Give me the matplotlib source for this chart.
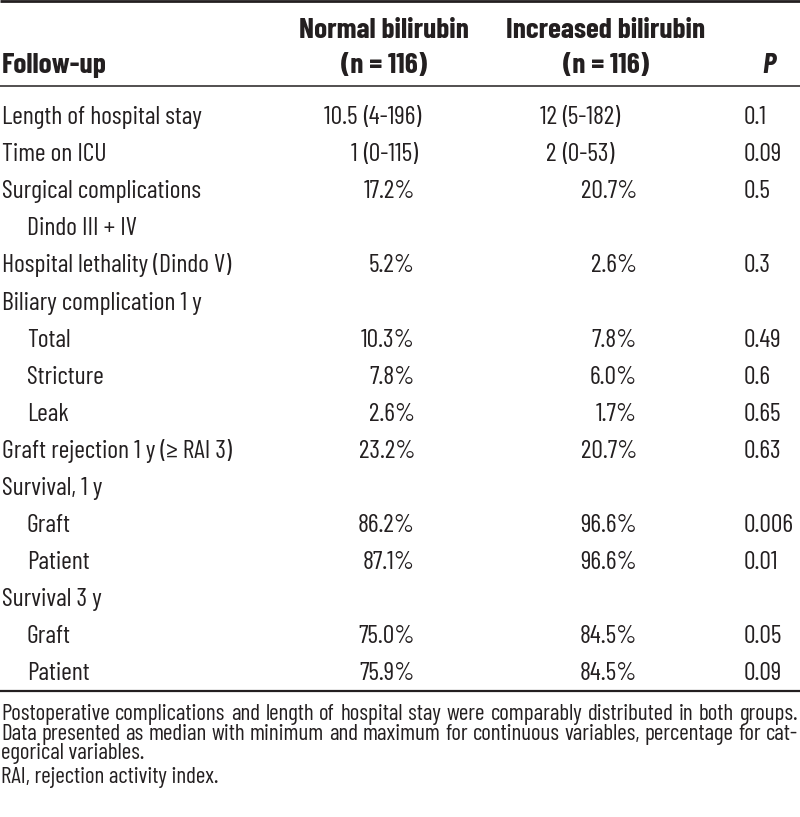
import matplotlib
matplotlib.use("Agg")
import matplotlib.pyplot as plt

FONT = ["Barlow Condensed", "Roboto Condensed", "DejaVu Sans"]

# ---------------- data ----------------
header_label = "Follow-up"
header_normal = ["Normal bilirubin", "(n = 116)"]
header_increased = ["Increased bilirubin", "(n = 116)"]
header_p = "P"

labels = ["Length of hospital stay", "Time on ICU", "Surgical complications",
          "Dindo III + IV", "Hospital lethality (Dindo V)", "Biliary complication 1 y",
          "Total", "Stricture", "Leak", "Graft rejection 1 y (\u2265 RAI 3)",
          "Survival, 1 y", "Graft", "Patient", "Survival 3 y", "Graft", "Patient"]
indent = [0, 0, 0, 1, 0, 0, 1, 1, 1, 0, 0, 1, 1, 0, 1, 1]
normal = ["10.5 (4-196)", "1 (0-115)", "17.2%", "", "5.2%", "", "10.3%", "7.8%",
          "2.6%", "23.2%", "", "86.2%", "87.1%", "", "75.0%", "75.9%"]
increased = ["12 (5-182)", "2 (0-53)", "20.7%", "", "2.6%", "", "7.8%", "6.0%",
             "1.7%", "20.7%", "", "96.6%", "96.6%", "", "84.5%", "84.5%"]
pvals = ["0.1", "0.09", "0.5", "", "0.3", "", "0.49", "0.6", "0.65", "0.63", "",
         "0.006", "0.01", "", "0.05", "0.09"]

footnote_justified = [
    "Postoperative complications and length of hospital stay were comparably distributed in both groups.",
    "Data presented as median with minimum and maximum for continuous variables, percentage for cat-",
]
footnote_plain = ["egorical variables.", "RAI, rejection activity index."]

# ---------------- layout ----------------
W, H = 800, 817
fig = plt.figure(figsize=(W / 100, H / 100), dpi=100)
ax = fig.add_axes([0, 0, 1, 1])
ax.set_xlim(0, W)
ax.set_ylim(H, 0)
ax.axis("off")
renderer = fig.canvas.get_renderer()

TXT = "#231f20"


def width_of(s, **kw):
    t = ax.text(0, 0, s, **kw)
    w = t.get_window_extent(renderer=renderer).width
    t.remove()
    return w


# font sizes fitted to the widths measured on the reference
FS = 18 * 200.0 / width_of(labels[0], fontfamily=FONT, fontsize=18)
FS_H = 18 * 170.0 / width_of(header_normal[0], fontfamily=FONT, fontsize=18, fontweight="bold")
FS_FOOT = 12 * 790.0 / width_of(footnote_justified[0], fontfamily=FONT, fontsize=12)

x_label = 2
x_indent = 27
x_norm_paren = 363
x_norm_right = 415
x_norm_center = 384
x_inc_paren = 562
x_inc_right = 637
x_inc_center = 606
x_p = 744

row0 = 124
row_step = 37.1

# rules
ax.plot([0, W], [1.2, 1.2], color=TXT, lw=2.0, solid_capstyle="butt")
ax.plot([0, W], [86, 86], color=TXT, lw=1.1, solid_capstyle="butt")
ax.plot([0, W], [691, 691], color=TXT, lw=1.6, solid_capstyle="butt")

# header
hb = dict(fontfamily=FONT, fontsize=FS_H, fontweight="bold", color=TXT, va="baseline")
ax.text(x_label, 73, header_label, ha="left", **hb)
ax.text(x_norm_center, 38, header_normal[0], ha="center", **hb)
ax.text(x_norm_center, 73, header_normal[1], ha="center", **hb)
ax.text(x_inc_center, 38, header_increased[0], ha="center", **hb)
ax.text(x_inc_center, 73, header_increased[1], ha="center", **hb)
ax.text(776, 73, header_p, ha="right", fontstyle="italic", **hb)

tb = dict(fontfamily=FONT, fontsize=FS, color=TXT, va="baseline")


def draw_value(s, x_paren, x_right, y):
    if not s:
        return
    if " (" in s:
        a, b = s.split(" (", 1)
        ax.text(x_paren, y, a + " ", ha="right", **tb)
        ax.text(x_paren, y, "(" + b, ha="left", **tb)
    else:
        ax.text(x_right, y, s, ha="right", **tb)


for i, lab in enumerate(labels):
    yb = row0 + i * row_step
    ax.text(x_indent if indent[i] else x_label, yb, lab, ha="left", **tb)
    draw_value(normal[i], x_norm_paren, x_norm_right, yb)
    draw_value(increased[i], x_inc_paren, x_inc_right, yb)
    if pvals[i]:
        ax.text(x_p, yb, pvals[i], ha="left", **tb)

# footnotes
fb = dict(fontfamily=FONT, fontsize=FS_FOOT, color=TXT, va="baseline")


def justify(line, y, x0=1, x1=798):
    words = line.split(" ")
    ws = [width_of(w, **fb) for w in words]
    gap = (x1 - x0 - sum(ws)) / (len(words) - 1)
    x = x0
    for w, wd in zip(words, ws):
        ax.text(x, y, w, ha="left", **fb)
        x += wd + gap


foot_y = [720, 740, 759, 783]
justify(footnote_justified[0], foot_y[0])
justify(footnote_justified[1], foot_y[1])
ax.text(1, foot_y[2], footnote_plain[0], ha="left", **fb)
ax.text(1, foot_y[3], footnote_plain[1], ha="left", **fb)

fig.savefig("out.png", dpi=100, facecolor="white")
